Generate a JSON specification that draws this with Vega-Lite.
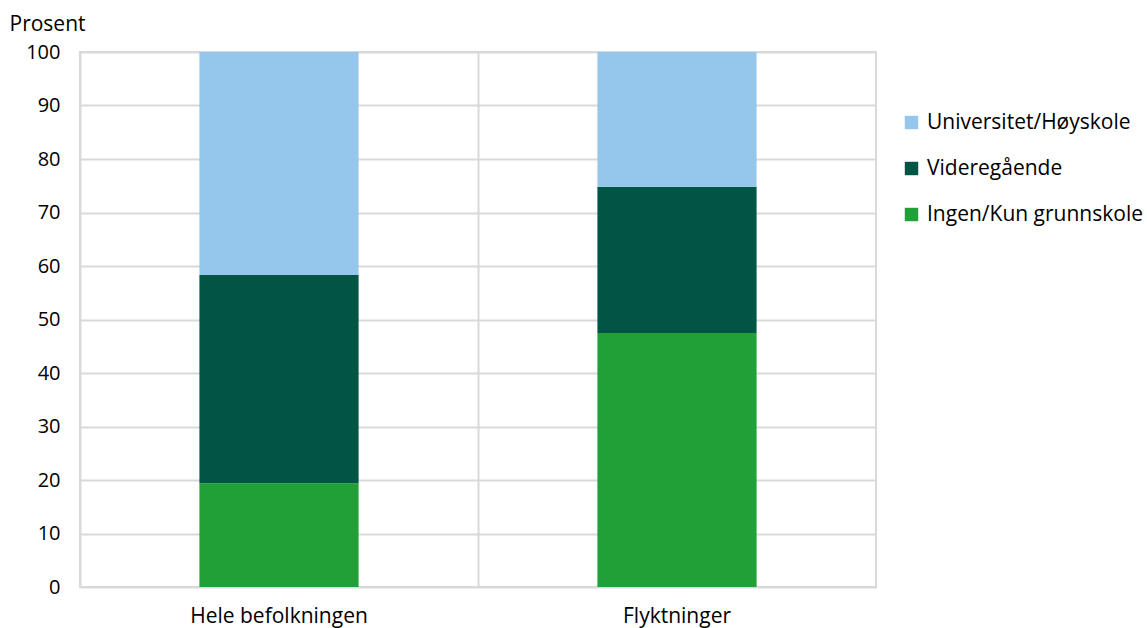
{
  "$schema": "https://vega.github.io/schema/vega-lite/v6.json",
  "autosize": "none",
  "width": 796,
  "height": 535,
  "padding": {"left": 80, "top": 52, "right": 271, "bottom": 41},
  "background": "white",
  "config": {
    "font": "Open Sans",
    "view": {"stroke": "#d9d9d9", "strokeWidth": 2}
  },
  "data": {
    "values": [
      {"gruppe": "Hele befolkningen", "utdanning": "Ingen/Kun grunnskole", "orden": 1, "prosent": 19.4},
      {"gruppe": "Hele befolkningen", "utdanning": "Videregående", "orden": 2, "prosent": 38.9},
      {"gruppe": "Hele befolkningen", "utdanning": "Universitet/Høyskole", "orden": 3, "prosent": 41.7},
      {"gruppe": "Flyktninger", "utdanning": "Ingen/Kun grunnskole", "orden": 1, "prosent": 47.5},
      {"gruppe": "Flyktninger", "utdanning": "Videregående", "orden": 2, "prosent": 27.3},
      {"gruppe": "Flyktninger", "utdanning": "Universitet/Høyskole", "orden": 3, "prosent": 25.2}
    ]
  },
  "mark": {"type": "bar"},
  "encoding": {
    "x": {
      "field": "gruppe",
      "type": "nominal",
      "sort": ["Hele befolkningen", "Flyktninger"],
      "scale": {"paddingInner": 0.6, "paddingOuter": 0.3},
      "axis": {
        "title": null,
        "labelAngle": 0,
        "labelFontSize": 21,
        "labelColor": "#000",
        "labelPadding": 18,
        "labelLimit": 0,
        "ticks": false,
        "domain": false,
        "grid": true,
        "gridColor": "#d9d9d9",
        "gridWidth": 2,
        "bandPosition": -0.75
      }
    },
    "y": {
      "field": "prosent",
      "type": "quantitative",
      "stack": "zero",
      "scale": {"domain": [0, 100], "nice": false},
      "axis": {
        "values": [0, 10, 20, 30, 40, 50, 60, 70, 80, 90, 100],
        "title": "Prosent",
        "titleAngle": 0,
        "titleAlign": "left",
        "titleBaseline": "alphabetic",
        "titleX": -71,
        "titleY": -22,
        "titleFontSize": 21,
        "titleFontWeight": "normal",
        "titleColor": "#000",
        "labelFontSize": 20,
        "labelColor": "#000",
        "labelPadding": 20,
        "ticks": false,
        "domain": false,
        "gridColor": "#d9d9d9",
        "gridWidth": 2
      }
    },
    "color": {
      "field": "utdanning",
      "type": "nominal",
      "scale": {
        "domain": ["Universitet/Høyskole", "Videregående", "Ingen/Kun grunnskole"],
        "range": ["#95c7ec", "#005545", "#21a038"]
      },
      "legend": {
        "title": null,
        "orient": "none",
        "legendX": 821,
        "legendY": 60,
        "symbolType": "square",
        "symbolSize": 180,
        "symbolStrokeWidth": 0,
        "labelFontSize": 21,
        "labelColor": "#000",
        "labelLimit": 0,
        "rowPadding": 24,
        "labelOffset": 5
      }
    },
    "order": {"field": "orden", "type": "quantitative"}
  }
}
